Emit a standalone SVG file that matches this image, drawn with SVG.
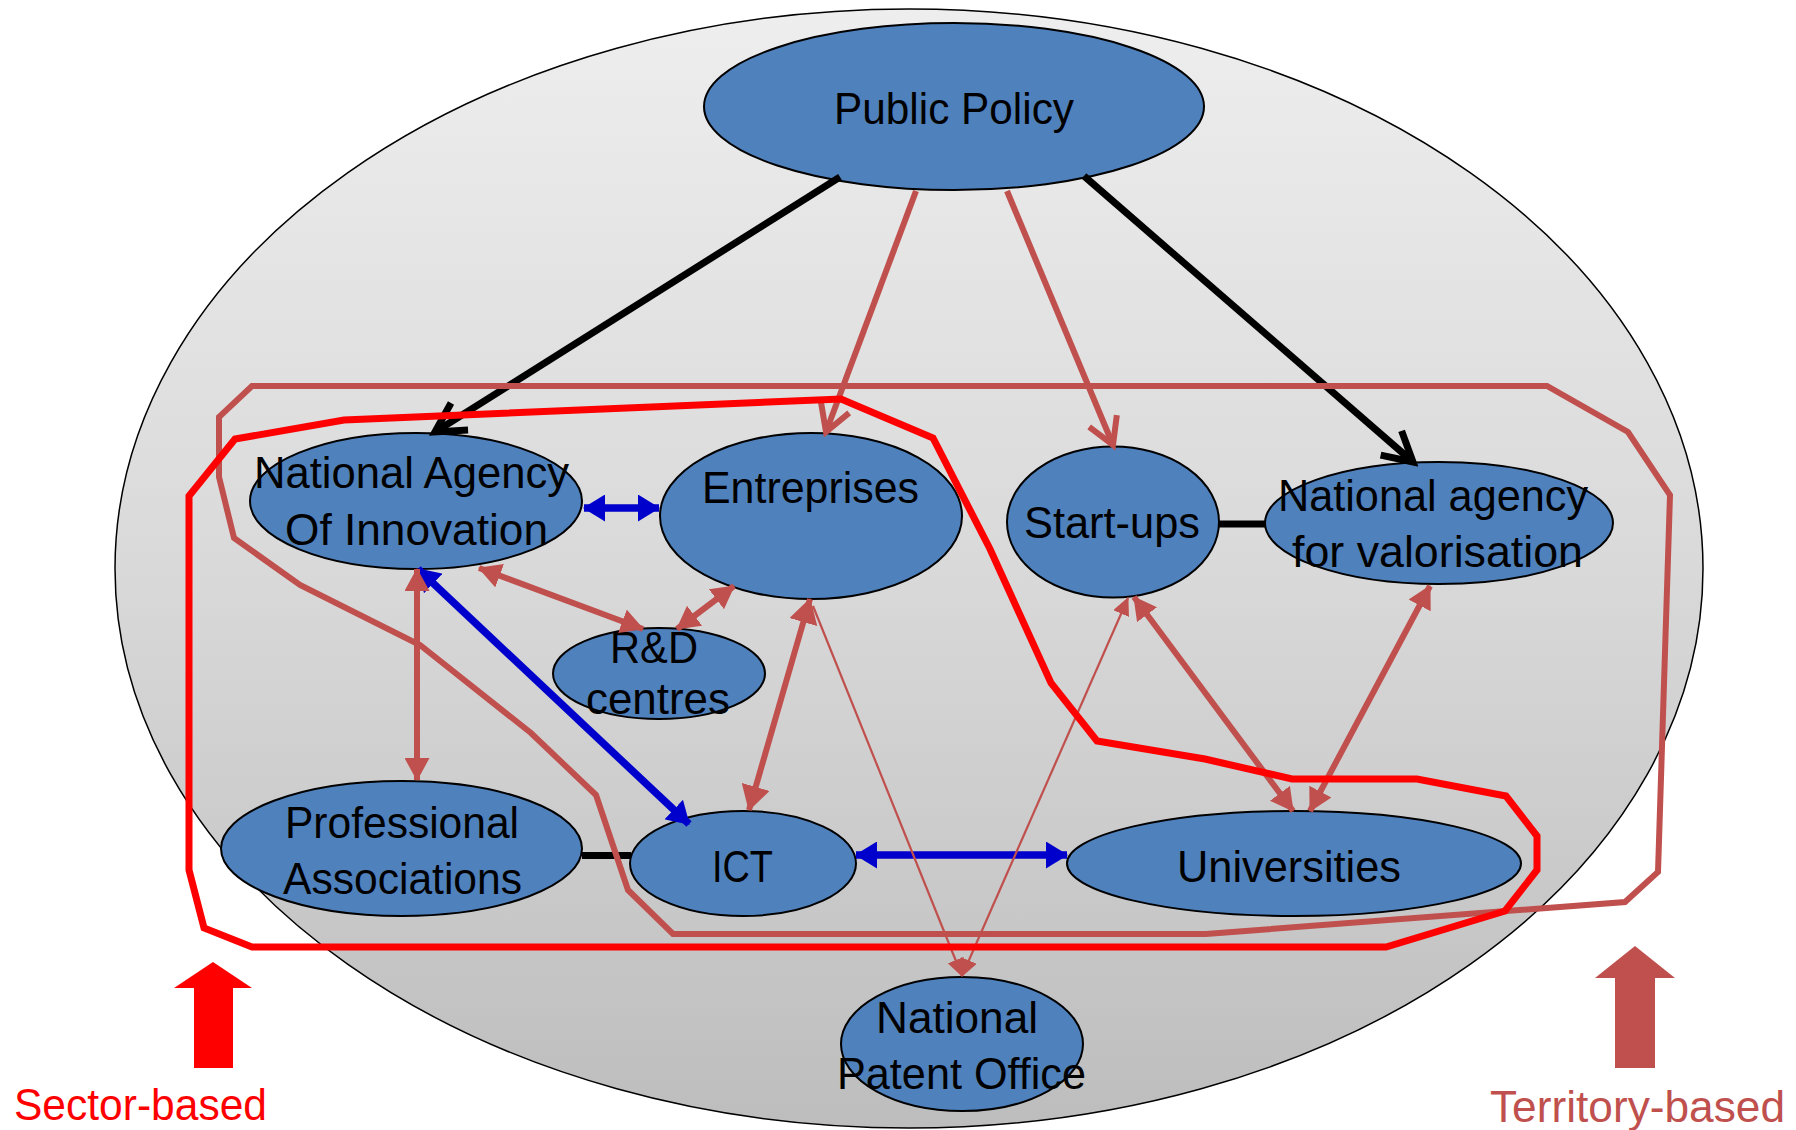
<svg xmlns="http://www.w3.org/2000/svg" width="1796" height="1130" viewBox="0 0 1796 1130">
<defs>
<linearGradient id="bg" x1="0" y1="0" x2="0" y2="1">
<stop offset="0" stop-color="#eeeeee"/>
<stop offset="0.5" stop-color="#d9d9d9"/>
<stop offset="1" stop-color="#bdbdbd"/>
</linearGradient>
<marker id="chevK" markerUnits="userSpaceOnUse" viewBox="0 0 44 44" markerWidth="44" markerHeight="44" refX="37" refY="22" orient="auto">
<path d="M8,6 L37,22 L8,38" fill="none" stroke="#000" stroke-width="7"/>
</marker>
<marker id="chevR" markerUnits="userSpaceOnUse" viewBox="0 0 44 44" markerWidth="44" markerHeight="44" refX="36" refY="22" orient="auto">
<path d="M10,7 L36,22 L10,37" fill="none" stroke="#c0504d" stroke-width="6"/>
</marker>
<marker id="triR" markerUnits="userSpaceOnUse" viewBox="0 0 23 25" markerWidth="23" markerHeight="25" refX="22" refY="12.5" orient="auto-start-reverse">
<path d="M0,0 L23,12.5 L0,25 Z" fill="#c0504d"/>
</marker>
<marker id="triRB" markerUnits="userSpaceOnUse" viewBox="0 0 25 29" markerWidth="25" markerHeight="29" refX="24" refY="14.5" orient="auto-start-reverse">
<path d="M0,0 L25,14.5 L0,29 Z" fill="#c0504d"/>
</marker>
<marker id="triT" markerUnits="userSpaceOnUse" viewBox="0 0 18 17" markerWidth="18" markerHeight="17" refX="17" refY="8.5" orient="auto-start-reverse">
<path d="M0,0 L18,8.5 L0,17 Z" fill="#c0504d"/>
</marker>
<marker id="triB" markerUnits="userSpaceOnUse" viewBox="0 0 22 27" markerWidth="22" markerHeight="27" refX="21" refY="13.5" orient="auto-start-reverse">
<path d="M0,0 L22,13.5 L0,27 Z" fill="#0000cc"/>
</marker>
</defs>
<style>
.node{fill:#4f81bd;stroke:#000;stroke-width:2}
.lbl{font-family:"Liberation Sans",Arial,sans-serif;font-size:45px;fill:#000;text-anchor:middle}
.k{stroke:#000;stroke-width:7;fill:none}
.r{stroke:#c0504d;stroke-width:6;fill:none}
.t{stroke:#c0504d;stroke-width:2.2;fill:none}
.b{stroke:#0000cc;stroke-width:7.5;fill:none}
.cap{font-family:"Liberation Sans",Arial,sans-serif;font-size:44px}
</style>

<g id="system">
<ellipse cx="909" cy="568.5" rx="794" ry="559.5" fill="url(#bg)" stroke="#000" stroke-width="1.5"/>
</g>

<g id="public-policy">
<ellipse class="node" cx="954" cy="106.5" rx="250" ry="83.5"/>
<text class="lbl" x="954" y="124" textLength="240" lengthAdjust="spacingAndGlyphs">Public Policy</text>
</g>
<g id="nai">
<ellipse class="node" cx="416" cy="501" rx="166" ry="68"/>
<text class="lbl" x="411.5" y="488" textLength="315" lengthAdjust="spacingAndGlyphs">National Agency</text>
<text class="lbl" x="416.5" y="545" textLength="263" lengthAdjust="spacingAndGlyphs">Of Innovation</text>
</g>
<g id="entreprises">
<ellipse class="node" cx="811" cy="516" rx="151" ry="83"/>
<text class="lbl" x="810.5" y="503" textLength="217" lengthAdjust="spacingAndGlyphs">Entreprises</text>
</g>
<g id="startups">
<ellipse class="node" cx="1113" cy="522" rx="106" ry="75.5"/>
<text class="lbl" x="1112" y="538" textLength="176" lengthAdjust="spacingAndGlyphs">Start-ups</text>
</g>
<g id="navalorisation">
<ellipse class="node" cx="1439" cy="523" rx="174" ry="61"/>
<text class="lbl" x="1433" y="511" textLength="310" lengthAdjust="spacingAndGlyphs">National agency</text>
<text class="lbl" x="1437.5" y="567" textLength="291" lengthAdjust="spacingAndGlyphs">for valorisation</text>
</g>
<g id="rd">
<ellipse class="node" cx="659" cy="673.5" rx="106" ry="45.5"/>
<text class="lbl" x="654" y="663" textLength="88" lengthAdjust="spacingAndGlyphs">R&amp;D</text>
<text class="lbl" x="658" y="714" textLength="144" lengthAdjust="spacingAndGlyphs">centres</text>
</g>
<g id="professional">
<ellipse class="node" cx="401.5" cy="848.5" rx="180.5" ry="67.5"/>
<text class="lbl" x="402" y="838" textLength="234" lengthAdjust="spacingAndGlyphs">Professional</text>
<text class="lbl" x="402.5" y="894" textLength="239" lengthAdjust="spacingAndGlyphs">Associations</text>
</g>
<g id="ict">
<ellipse class="node" cx="743" cy="863.5" rx="113" ry="52.5"/>
<text class="lbl" x="742.5" y="882" textLength="61" lengthAdjust="spacingAndGlyphs">ICT</text>
</g>
<g id="universities">
<ellipse class="node" cx="1294" cy="863.5" rx="227" ry="52.5"/>
<text class="lbl" x="1289" y="882" textLength="224" lengthAdjust="spacingAndGlyphs">Universities</text>
</g>
<g id="patent">
<ellipse class="node" cx="962" cy="1044" rx="121" ry="67"/>
<text class="lbl" x="957" y="1033" textLength="162" lengthAdjust="spacingAndGlyphs">National</text>
<text class="lbl" x="961.5" y="1089" textLength="249" lengthAdjust="spacingAndGlyphs">Patent Office</text>
</g>

<g id="connectors">
<line class="k" x1="840" y1="177" x2="435" y2="432" marker-end="url(#chevK)"/>
<line class="k" x1="1084" y1="176" x2="1413" y2="462" marker-end="url(#chevK)"/>
<line class="k" x1="1218" y1="524" x2="1266" y2="524"/>
<line class="k" x1="582" y1="855.5" x2="631" y2="855.5"/>
<line class="r" x1="916" y1="191" x2="826" y2="432" marker-end="url(#chevR)"/>
<line class="r" x1="1007" y1="191" x2="1113" y2="445" marker-end="url(#chevR)"/>
<line class="b" x1="584" y1="508" x2="659" y2="508" marker-start="url(#triB)" marker-end="url(#triB)"/>
<line class="b" x1="418" y1="569" x2="689" y2="824" marker-start="url(#triB)" marker-end="url(#triB)"/>
<line class="b" x1="856" y1="855" x2="1067" y2="855" marker-start="url(#triB)" marker-end="url(#triB)"/>
<line class="r" x1="417" y1="569" x2="417" y2="780" marker-start="url(#triR)" marker-end="url(#triR)"/>
<line class="r" x1="479" y1="568" x2="643" y2="629" marker-start="url(#triR)" marker-end="url(#triR)"/>
<line class="r" x1="677" y1="629" x2="734" y2="586" marker-start="url(#triR)" marker-end="url(#triR)"/>
<line class="r" x1="810" y1="599" x2="749" y2="810" stroke-width="8" marker-start="url(#triRB)" marker-end="url(#triRB)"/>
<line class="r" x1="1134" y1="597" x2="1293" y2="811" marker-start="url(#triR)" marker-end="url(#triR)"/>
<line class="r" x1="1430" y1="586" x2="1310" y2="811" marker-start="url(#triR)" marker-end="url(#triR)"/>
<line class="t" x1="813" y1="606" x2="962" y2="976" marker-end="url(#triT)"/>
<line class="t" x1="1128" y1="598" x2="962" y2="976" marker-start="url(#triT)" marker-end="url(#triT)"/>
</g>

<g id="territory-boundary">
<polygon points="252,386 1547,386 1628,432 1670,495 1658,872 1625,902 1206,934 673,934 628,890 596,795 531,733 420,645 300,585 234,538 219,477 219,417" fill="none" stroke="#c0504d" stroke-width="6" stroke-linejoin="miter"/>
</g>
<g id="sector-boundary">
<polygon points="189,496 235,439 344,420 841,399 933,438 990,549 1051,683 1097,741 1205,759 1292,779 1417,779 1506,796 1537,836 1537,870 1505,911 1386,947 252,947 204,928 189,870" fill="none" stroke="#ff0000" stroke-width="7" stroke-linejoin="miter"/>
</g>

<g id="sector-based">
<polygon points="213,962 252,988 233,988 233,1068 194,1068 194,988 174,988" fill="#ff0000"/>
<text class="cap" x="14" y="1120" fill="#ff0000" textLength="253" lengthAdjust="spacingAndGlyphs">Sector-based</text>
</g>
<g id="territory-based">
<polygon points="1635,946 1675,978 1655,978 1655,1068 1615,1068 1615,978 1595,978" fill="#c0504d"/>
<text class="cap" x="1490" y="1122" fill="#c0504d" textLength="295" lengthAdjust="spacingAndGlyphs">Territory-based</text>
</g>
</svg>
